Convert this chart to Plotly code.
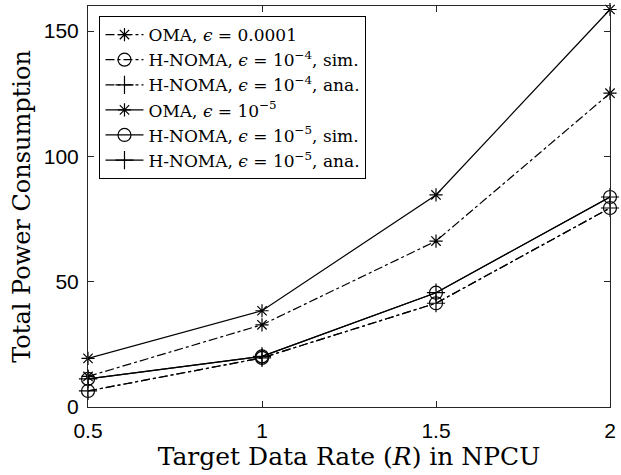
import plotly.graph_objects as go

rates = [0.5, 1, 1.5, 2]
oma_e4 = [12.2, 32.8, 66.2, 125.2]
hnoma_e4_sim = [6.4, 19.6, 41.4, 79.4]
hnoma_e4_ana = [6.4, 19.6, 41.4, 79.4]
oma_e5 = [19.4, 38.4, 84.6, 158.6]
hnoma_e5_sim = [11.2, 20.2, 45.6, 83.8]
hnoma_e5_ana = [11.2, 20.2, 45.6, 83.8]
x_ticks = ["0.5", "1", "1.5", "2"]
y_ticks = [0, 50, 100, 150]

names = [
    "OMA, <i>ϵ</i> = 0.0001",
    "H-NOMA, <i>ϵ</i> = 10<sup>−4</sup>, sim.",
    "H-NOMA, <i>ϵ</i> = 10<sup>−4</sup>, ana.",
    "OMA, <i>ϵ</i> = 10<sup>−5</sup>",
    "H-NOMA, <i>ϵ</i> = 10<sup>−5</sup>, sim.",
    "H-NOMA, <i>ϵ</i> = 10<sup>−5</sup>, ana.",
]
series = [oma_e4, hnoma_e4_sim, hnoma_e4_ana, oma_e5, hnoma_e5_sim, hnoma_e5_ana]
dashes = ["dashdot", "dashdot", "dashdot", "solid", "solid", "solid"]
symbols = ["asterisk-open", "circle-open", "cross-thin-open",
           "asterisk-open", "circle-open", "cross-thin-open"]
sizes = [11, 13, 13, 11, 13, 13]

fig = go.Figure()
for n, s, d, sym, sz in zip(names, series, dashes, symbols, sizes):
    fig.add_trace(go.Scatter(
        x=rates, y=s, name=n, mode="lines+markers",
        line=dict(color="black", width=1.2, dash=d),
        marker=dict(symbol=sym, size=sz, color="black",
                    line=dict(color="black", width=1.2)),
        cliponaxis=False,
    ))

serif = "DejaVu Serif"
sans = "Liberation Sans"
fig.update_layout(
    width=621, height=475,
    margin=dict(l=88, r=6, t=5, b=68),
    paper_bgcolor="white", plot_bgcolor="white",
    font=dict(family=serif, color="black"),
    showlegend=True,
    legend=dict(
        x=0.022, y=0.975, xanchor="left", yanchor="top",
        bgcolor="white", bordercolor="black", borderwidth=1,
        font=dict(family=serif, size=17, color="black"),
        tracegroupgap=0, itemwidth=38,
    ),
    xaxis=dict(
        range=[0.5, 2], tickvals=rates, ticktext=x_ticks,
        ticks="inside", ticklen=6, tickcolor="#262626",
        showline=True, linecolor="#262626", linewidth=1, mirror="ticks",
        showgrid=False, zeroline=False, ticklabeloverflow="allow",
        ticklabelstandoff=5,
        tickfont=dict(family=sans, size=21, color="black"),
        title=dict(text="Target Data Rate (<i>R</i>) in NPCU",
                   font=dict(family=serif, size=25, color="black"), standoff=5),
    ),
    yaxis=dict(
        range=[0, 160], tickvals=y_ticks,
        ticks="inside", ticklen=6, tickcolor="#262626",
        showline=True, linecolor="#262626", linewidth=1, mirror="ticks",
        showgrid=False, zeroline=False, ticklabelstandoff=4,
        tickfont=dict(family=sans, size=21, color="black"),
        title=dict(text="Total Power Consumption",
                   font=dict(family=serif, size=24, color="black"), standoff=6),
    ),
)

fig.write_html("out.html", config={"displayModeBar": False},
               post_script="document.body.style.margin='0';")
